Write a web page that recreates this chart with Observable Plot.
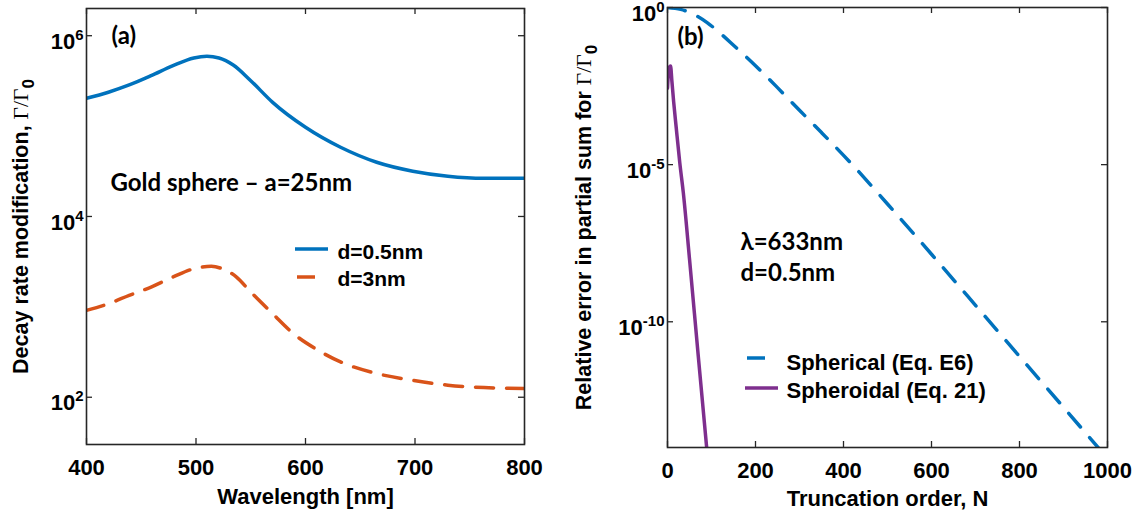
<!DOCTYPE html>
<html>
<head>
<meta charset="utf-8">
<script src="https://cdn.jsdelivr.net/npm/d3@7"></script>
<script src="https://cdn.jsdelivr.net/npm/@observablehq/plot@0.6"></script>
<style>
  html, body { margin: 0; padding: 0; background: #fff; }
  #chart { display: flex; width: 1136px; height: 515px; background: #fff; overflow: hidden; }
</style>
</head>
<body>
<div id="chart"></div>
<script>
// ---------- Panel (a): decay rate modification vs wavelength ----------
const wavelengthA = [400, 420, 439, 459, 479, 498, 510, 521, 534, 550, 570, 600, 632, 665, 698, 730, 763, 800];
const gammaD05 = [2.03e5, 2.37e5, 2.85e5, 3.61e5, 4.66e5, 5.67e5, 5.92e5, 5.67e5, 4.74e5, 3.18e5, 1.83e5, 9.7e4, 5.83e4, 3.98e4, 3.17e4, 2.79e4, 2.65e4, 2.65e4];
const wavelengthB = [400, 420, 439, 459, 479, 498, 514, 524, 537, 550, 570, 589, 609, 632, 665, 698, 730, 763, 800];
const gammaD3 = [914, 1083, 1340, 1656, 2137, 2642, 2805, 2642, 2137, 1459, 840, 505, 345, 246, 183, 154, 136, 128, 125];
const wlTicks = [400, 500, 600, 700, 800];
const decayTicks = [1e2, 1e4, 1e6];

// ---------- Panel (b): relative error vs truncation order ----------
const orderSpherical = [0, 30, 60, 90, 120, 150, 200, 250, 300, 350, 420, 500, 600, 720, 800, 900, 980];
const errSpherical = [1, 0.871, 0.603, 0.331, 0.151, 0.063, 0.0141, 2.82e-3, 5.37e-4, 1.05e-4, 1e-5, 5.6e-7, 1.41e-8, 1.58e-10, 7.9e-12, 1.9e-13, 9.5e-15];
const orderSpheroidal = [0, 2, 4, 7, 10, 14, 20, 28, 36, 50, 70, 91];
const errSpheroidal = [2.69e-3, 7.9e-3, 1.26e-2, 1.38e-2, 4.5e-3, 1.0e-3, 1.41e-4, 1.12e-5, 1.26e-6, 1.0e-8, 7.9e-12, 5.0e-15];
const orderTicks = [0, 200, 400, 600, 800, 1000];
const errTicks = [1e-10, 1e-5, 1e0];

const BLUE = "#0072BD", ORANGE = "#D95319", PURPLE = "#7E2F8E";
const FRAME = "#262626";
const W = 568, H = 515;
const SANS = "Liberation Sans, Arial, sans-serif";
const CAL = "Lato, 'Open Sans', 'DejaVu Sans', sans-serif";

const zip = (xs, ys) => xs.map((x, i) => ({x, y: ys[i]}));

function legendMark(items) {
  return (index, scales, values, dims) => {
    const g = d3.create("svg:g");
    for (const it of items) {
      g.append("line")
        .attr("x1", dims.marginLeft + it.x1).attr("x2", dims.marginLeft + it.x2)
        .attr("y1", dims.marginTop + it.y).attr("y2", dims.marginTop + it.y)
        .attr("stroke", it.color).attr("stroke-width", 3.5);
    }
    return g.node();
  };
}

function panel(cfg) {
  const m = cfg.margins;
  const innerW = W - m.left - m.right, innerH = H - m.top - m.bottom;
  const tl = 6;
  const marks = [];
  for (const s of cfg.series) {
    marks.push(Plot.line(s.data, {x: "x", y: "y", stroke: s.color, strokeWidth: 3.5,
      strokeDasharray: s.dash, curve: "monotone-x", clip: true}));
  }
  marks.push(
    Plot.tickX(cfg.xTicks, {x: d => d, insetTop: innerH - tl, stroke: FRAME, strokeWidth: 1.3}),
    Plot.tickX(cfg.xTicks, {x: d => d, insetBottom: innerH - tl, stroke: FRAME, strokeWidth: 1.3}),
    Plot.tickY(cfg.yTicks, {y: d => d, insetRight: innerW - tl, stroke: FRAME, strokeWidth: 1.3}),
    Plot.tickY(cfg.yTicks, {y: d => d, insetLeft: innerW - tl, stroke: FRAME, strokeWidth: 1.3}),
    Plot.axisX({ticks: cfg.xTicks, tickSize: 0, tickPadding: 15, fontSize: 22, fontWeight: "bold",
      fontFamily: SANS, fill: "#000", label: null, tickFormat: d => String(d)}),
    Plot.axisY({ticks: cfg.yTicks, tickSize: 0, tickPadding: 3, fontSize: 22, fontWeight: "bold",
      fontFamily: SANS, fill: "#000", label: null,
      tickFormat: d => "10^" + Math.round(Math.log10(d))}),
    Plot.text([cfg.xlabel], {frameAnchor: "bottom", dy: cfg.xlabelDy, lineAnchor: "middle", textAnchor: "middle",
      fontSize: 22, fontWeight: "bold", fontFamily: SANS, fill: "#000"}),
    Plot.text([cfg.ylabel], {frameAnchor: "left", dx: cfg.ylabelDx, rotate: -90, lineAnchor: "middle",
      textAnchor: "middle", fontSize: 21.5, fontWeight: "bold", fontFamily: SANS, fill: "#000"})
  );
  for (const t of cfg.texts) {
    marks.push(Plot.text([t.text], {frameAnchor: "top-left", dx: t.dx, dy: t.dy, textAnchor: "start",
      lineAnchor: "middle", fontSize: t.size, fontWeight: "bold", fontFamily: t.font, fill: "#000"}));
  }
  marks.push(legendMark(cfg.legend));
  marks.push(Plot.frame({stroke: FRAME, strokeWidth: 1.6}));

  const svg = Plot.plot({
    width: W, height: H,
    marginLeft: m.left, marginRight: m.right, marginTop: m.top, marginBottom: m.bottom,
    style: {background: "#fff", overflow: "visible", fontFamily: SANS},
    x: {domain: cfg.xDomain},
    y: {type: "log", domain: cfg.yDomain},
    marks
  });

  // superscript exponents on the log tick labels
  const ns = "http://www.w3.org/2000/svg";
  svg.querySelectorAll('g[aria-label="y-axis tick label"] text').forEach(t => {
    const s = t.textContent;
    if (!s.includes("^")) return;
    const [base, exp] = s.split("^");
    t.textContent = "";
    const a = document.createElementNS(ns, "tspan");
    a.setAttribute("dy", "6"); a.textContent = base; t.appendChild(a);
    const b = document.createElementNS(ns, "tspan");
    b.setAttribute("dy", "-9"); b.setAttribute("font-size", "15"); b.textContent = exp; t.appendChild(b);
  });
  // math part of the y label: Γ/Γ_0
  svg.querySelectorAll("text").forEach(t => {
    if (t.textContent === cfg.ylabel) {
      t.textContent = "";
      const a = document.createElementNS(ns, "tspan");
      a.textContent = cfg.ylabelPlain; t.appendChild(a);
      const b = document.createElementNS(ns, "tspan");
      b.setAttribute("font-family", "Liberation Serif, DejaVu Serif, serif");
      b.setAttribute("font-weight", "normal");
      b.textContent = "Γ/Γ"; t.appendChild(b);
      const c = document.createElementNS(ns, "tspan");
      c.setAttribute("dy", "0.35em"); c.setAttribute("font-size", "17");
      c.textContent = "0"; t.appendChild(c);
    }
  });
  return svg;
}

const left = panel({
  margins: {left: 86, right: 44, top: 8, bottom: 71},
  xDomain: [400, 800], yDomain: [30, 2e6],
  xTicks: wlTicks, yTicks: decayTicks,
  series: [
    {data: zip(wavelengthA, gammaD05), color: BLUE},
    {data: zip(wavelengthB, gammaD3), color: ORANGE, dash: "18,13"}
  ],
  xlabel: "Wavelength [nm]", xlabelDy: 52,
  ylabel: "Decay rate modification, Γ/Γ0", ylabelPlain: "Decay rate modification, ", ylabelDx: -65,
  texts: [
    {text: "(a)", dx: 25, dy: 28, size: 24, font: CAL},
    {text: "Gold sphere – a=25nm", dx: 24, dy: 175, size: 24, font: CAL},
    {text: "d=0.5nm", dx: 251, dy: 244, size: 21, font: SANS},
    {text: "d=3nm", dx: 251, dy: 271, size: 21, font: SANS}
  ],
  legend: [
    {x1: 209, x2: 242, y: 241, color: BLUE},
    {x1: 211, x2: 229, y: 269, color: ORANGE}
  ]
});

const right = panel({
  margins: {left: 99, right: 29, top: 7, bottom: 68},
  xDomain: [0, 1000], yDomain: [1e-14, 1],
  xTicks: orderTicks, yTicks: errTicks,
  series: [
    {data: zip(orderSpherical, errSpherical), color: BLUE, dash: "18,14"},
    {data: zip(orderSpheroidal, errSpheroidal), color: PURPLE}
  ],
  xlabel: "Truncation order, N", xlabelDy: 51,
  ylabel: "Relative error in partial sum for Γ/Γ0", ylabelPlain: "Relative error in partial sum for ", ylabelDx: -83,
  texts: [
    {text: "(b)", dx: 10, dy: 30, size: 24, font: CAL},
    {text: "λ=633nm", dx: 73, dy: 235, size: 24, font: CAL},
    {text: "d=0.5nm", dx: 73, dy: 266, size: 24, font: CAL},
    {text: "Spherical (Eq. E6)", dx: 119, dy: 355, size: 22, font: SANS},
    {text: "Spheroidal (Eq. 21)", dx: 119, dy: 383, size: 22, font: SANS}
  ],
  legend: [
    {x1: 80, x2: 98, y: 351, color: BLUE},
    {x1: 78, x2: 111, y: 381, color: PURPLE}
  ]
});

document.getElementById("chart").append(left, right);
</script>
</body>
</html>
